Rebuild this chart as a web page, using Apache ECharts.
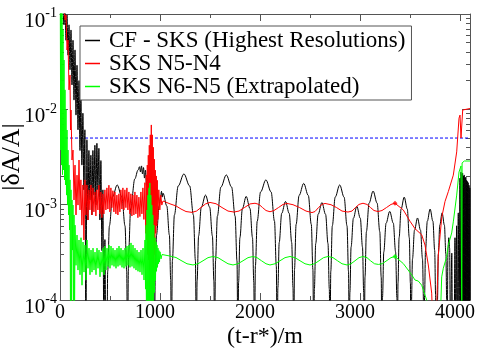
<!DOCTYPE html>
<html>
<head>
<meta charset="utf-8">
<script src="https://cdn.jsdelivr.net/npm/echarts@6/dist/echarts.min.js"></script>
<style>html,body{margin:0;padding:0;background:#fff}#c{width:485px;height:348px}</style>
</head>
<body>
<div id="c"></div>
<script>
// ---- tick labels / ticks ----
const xMajorTicks = [0, 1000, 2000, 3000, 4000];
const xMinorTicks = [500, 1500, 2500, 3500];
const yMajorTicks = [1e-4, 1e-3, 1e-2, 1e-1];
const yMinorTicks = [2e-4,3e-4,4e-4,5e-4,6e-4,7e-4,8e-4,9e-4,2e-3,3e-3,4e-3,5e-3,6e-3,7e-3,8e-3,9e-3,2e-2,3e-2,4e-2,5e-2,6e-2,7e-2,8e-2,9e-2];
const seriesNames = ['CF - SKS (Highest Resolutions)', 'SKS N5-N4', 'SKS N6-N5 (Extrapolated)'];
const thresholdX = [0, 4100];
const thresholdLevel = 5e-3;

// ---- black: CF - SKS ----
const blackData = [
[30,0.12],[40,7.7e-2],[50,0.11],[60,5.3e-2],[70,9.8e-2],[80,3.7e-2],[90,7.7e-2],[100,2.6e-2],[110,6.8e-2],[120,1.8e-2],
[130,5.3e-2],[140,1.25e-2],[150,4.2e-2],[160,8.7e-3],[170,2.9e-2],[180,6.1e-3],[190,2.0e-2],[200,3.7e-3],[209,1.41e-2],[219,2.6e-3],
[229,9.1e-3],[239,1.43e-3],[249,6.1e-3],[259,3e-5],[269,4.8e-3],[279,6.9e-4],[289,3.7e-3],[299,1.12e-3],[309,3.3e-3],[319,7.8e-4],
[329,3.7e-3],[339,1.26e-3],[349,4.2e-3],[359,9.9e-4],[369,4.4e-3],[379,1.43e-3],[389,3.9e-3],[399,6.9e-4],[409,2.9e-3],[419,3.3e-4],
[429,1.43e-3],[439,3e-5],[449,4.3e-4],[459,3e-5],
[469,3e-5],[477,2.0e-4],[494,6.0e-4],[525,1.2e-3],[572,1.61e-3],[619,1.2e-3],[650,6.0e-4],[667,2.0e-4],[675,3e-5],
[686,3.1e-4],[707,9.2e-4],[748,1.86e-3],[780,2.3e-3],[795,2.5e-3],[805,2.2e-3],[815,2.55e-3],[825,2.1e-3],[835,2.45e-3],[845,1.9e-3],
[855,2.3e-3],[865,1.6e-3],[875,1.9e-3],[890,1.2e-3],[913,9.2e-4],[934,3.1e-4],[945,3e-5],
[952,1.63e-4],[965,4.8e-4],[991,9.7e-4],[1005,1.2e-3],[1015,1.38e-3],[1022,1.2e-3],[1030,1.32e-3],[1068,9.7e-4],[1094,4.8e-4],[1107,1.63e-4],[1114,3e-5],
[1124,2.6e-4],[1144,7.8e-4],[1182,1.57e-3],[1239,2.1e-3],[1297,1.57e-3],[1334,7.8e-4],[1354,2.6e-4],[1364,3e-5],
[1371,1.58e-4],[1386,4.7e-4],[1413,9.4e-4],[1455,1.26e-3],[1497,9.4e-4],[1524,4.7e-4],[1539,1.58e-4],[1546,3e-5],
[1555,2.56e-4],[1574,7.6e-4],[1609,1.53e-3],[1663,2.05e-3],[1716,1.53e-3],[1751,7.6e-4],[1770,2.56e-4],[1779,3e-5],
[1786,1.53e-4],[1799,4.5e-4],[1824,9.1e-4],[1862,1.22e-3],[1900,9.1e-4],[1925,4.5e-4],[1938,1.53e-4],[1945,3e-5],
[1954,2.28e-4],[1972,6.7e-4],[2006,1.36e-3],[2059,1.82e-3],[2111,1.36e-3],[2145,6.7e-4],[2163,2.28e-4],[2172,3e-5],
[2179,1.35e-4],[2192,4.0e-4],[2217,8.1e-4],[2255,1.08e-3],[2292,8.1e-4],[2317,4.0e-4],[2330,1.35e-4],[2337,3e-5],
[2345,2.09e-4],[2361,6.2e-4],[2391,1.25e-3],[2437,1.67e-3],[2483,1.25e-3],[2513,6.2e-4],[2529,2.09e-4],[2537,3e-5],
[2544,1.31e-4],[2557,3.9e-4],[2581,7.9e-4],[2619,1.05e-3],[2656,7.9e-4],[2680,3.9e-4],[2693,1.31e-4],[2700,3e-5],
[2708,2.0e-4],[2723,6.0e-4],[2752,1.2e-3],[2797,1.61e-3],[2841,1.2e-3],[2870,6.0e-4],[2885,2.0e-4],[2893,3e-5],
[2899,1.2e-4],[2911,3.6e-4],[2934,7.2e-4],[2968,9.6e-4],[3003,7.2e-4],[3025,3.6e-4],[3037,1.2e-4],[3043,3e-5],
[3050,1.74e-4],[3064,5.2e-4],[3091,1.04e-3],[3131,1.39e-3],[3171,1.04e-3],[3198,5.2e-4],[3212,1.74e-4],[3219,3e-5],
[3225,1.06e-4],[3238,3.2e-4],[3261,6.4e-4],[3297,8.5e-4],[3333,6.4e-4],[3356,3.2e-4],[3369,1.06e-4],[3375,3e-5],
[3380,1.5e-4],[3391,4.5e-4],[3411,9.0e-4],[3442,1.2e-3],[3473,9.0e-4],[3493,4.5e-4],[3504,1.5e-4],[3509,3e-5],
[3514,9.1e-5],[3525,2.7e-4],[3545,5.4e-4],[3575,7.25e-4],[3605,5.4e-4],[3625,2.7e-4],[3636,9.1e-5],[3641,3e-5],
[3646,1.13e-4],[3655,3.3e-4],[3673,6.7e-4],[3701,9.0e-4],[3729,6.7e-4],[3747,3.3e-4],[3756,1.13e-4],[3761,3e-5],
[3771,3e-5],[3775,1.0e-4],[3783,3.0e-4],[3798,6.1e-4],[3821,8.2e-4],[3844,6.1e-4],[3859,3.0e-4],[3867,1.0e-4],[3871,3e-5],
[3880,3.5e-4],[3888,4.5e-4],[3896,3.5e-4],[3905,3e-5],[3912,3e-5],[3918,3.1e-4],[3925,3e-5],[3940,3e-5],[3950,4.5e-4],[3958,3e-5],
[3966,6e-4],[3972,3e-5],[3983,8.2e-4],[3990,3e-5],[4000,1.9e-3],[4005,3e-5],
[4010,2.2e-3],[4014,3e-5],[4018,2.1e-3],[4022,3e-5],[4026,2.15e-3],[4030,3e-5],[4034,2.0e-3],[4038,3e-5],[4042,2.05e-3],[4046,3e-5],
[4050,1.9e-3],[4054,3e-5],[4058,1.95e-3],[4062,3e-5],[4066,1.8e-3],[4070,3e-5],[4074,1.75e-3],[4078,3e-5],[4082,1.7e-3],[4086,3e-5],
[4090,1.6e-3],[4094,3e-5],[4098,1.5e-3],[4100,3e-5]
];

// ---- red: SKS N5-N4 ----
const redData = [
[40,0.124],[50,8.65e-2],[60,9.76e-2],[70,4.19e-2],[80,5.33e-2],[90,1.6e-2],[100,2.29e-2],[105,6.07e-3],[110,9.84e-3],[120,2.94e-3],
[130,3.74e-3],[140,1.12e-3],[150,2.6e-3],[160,7.8e-4],[170,2.04e-3],[180,9.9e-4],[190,2.94e-3],[200,8.8e-4],[209,1.82e-3],[219,6.1e-4],
[229,1.61e-3],[239,4.26e-4],[249,1.82e-3],[259,7.8e-4],[269,1.61e-3],[279,6.9e-4],[289,1.43e-3],[299,8.8e-4],[309,1.61e-3],
[319,7.8e-4],[329,1.5e-3],[339,8.4e-4],[349,1.36e-3],[359,7.6e-4],[369,1.43e-3],[379,8.8e-4],[389,1.6e-3],[399,8.0e-4],[409,1.36e-3],
[419,7.3e-4],[429,1.3e-3],[439,8.0e-4],[449,1.43e-3],[459,8.8e-4],[469,1.5e-3],[479,9.0e-4],[489,1.6e-3],[499,8.4e-4],[509,1.5e-3],
[519,9.3e-4],[529,1.4e-3],[539,8.4e-4],[549,1.36e-3],[559,8.0e-4],[569,1.26e-3],[579,7.8e-4],[589,1.3e-3],[599,8.4e-4],[609,1.43e-3],
[619,9.0e-4],[629,1.5e-3],[639,8.8e-4],[649,1.43e-3],[659,9.3e-4],[669,1.5e-3],[679,8.8e-4],[689,1.36e-3],[699,8.0e-4],[709,1.3e-3],
[719,7.6e-4],[729,1.26e-3],[739,7.8e-4],[749,1.36e-3],[759,8.0e-4],[769,1.26e-3],[779,7.3e-4],[789,1.2e-3],[799,7.5e-4],[809,1.36e-3],
[819,8.0e-4],[829,1.5e-3],[839,7.0e-4],[849,1.7e-3],[858,5.0e-4],
[863,2.04e-3],[868,4.26e-4],[873,2.6e-3],[878,3.0e-4],[883,3.3e-3],[888,2.63e-4],[893,4.2e-3],[898,2.0e-4],[903,5.4e-3],[908,2.5e-4],
[913,6.86e-3],[918,1.6e-4],[923,5.4e-3],[928,1.27e-4],[933,4.0e-3],[938,1.5e-4],[943,3.0e-3],[948,3.0e-4],[953,2.3e-3],[958,5.0e-4],
[963,2.0e-3],[968,6.0e-4],[973,1.8e-3],[978,7.0e-4],[988,1.43e-3],[998,8.8e-4],[1008,1.26e-3],[1018,9.9e-4],
[1030,1.093e-3],[1100,1.02e-3],[1160,9.7e-4],[1210,9.0e-4],[1260,8.47e-4],[1320,8.3e-4],[1365,8.57e-4],[1410,9.33e-4],[1455,1.018e-3],[1500,1.055e-3],
[1560,1.023e-3],[1620,9.33e-4],[1680,8.57e-4],[1740,8.37e-4],[1790,8.57e-4],[1845,9.33e-4],[1900,1.018e-3],[1950,1.035e-3],[1990,1.006e-3],[2025,9.33e-4],
[2060,8.68e-4],[2100,8.43e-4],[2140,8.68e-4],[2185,9.33e-4],[2230,1.006e-3],[2270,1.03e-3],[2330,9.99e-4],[2395,9.33e-4],[2460,8.57e-4],[2520,8.26e-4],
[2550,8.47e-4],[2585,9.33e-4],[2620,1.006e-3],[2650,1.03e-3],[2710,9.99e-4],[2765,9.33e-4],[2820,8.57e-4],[2880,8.37e-4],[2920,8.57e-4],[2955,9.33e-4],
[2990,1.006e-3],[3030,1.035e-3],[3070,1.006e-3],[3105,9.33e-4],[3140,8.68e-4],[3180,8.47e-4],[3220,8.68e-4],[3265,9.33e-4],[3310,1.006e-3],[3350,1.035e-3],
[3433,8.8e-4],[3500,6.7e-4],[3550,5.6e-4],[3617,4.83e-4],[3650,3.77e-4],[3683,2.33e-4],[3717,1.18e-4],[3730,5e-5],[3760,5e-5],[3775,1.62e-4],
[3783,2.96e-4],[3817,7.3e-4],[3850,1.08e-3],[3883,1.37e-3],[3933,2.04e-3],[3967,3.58e-3],[3990,8.07e-3],[4000,8.7e-3],[4010,5.0e-3],[4027,9.84e-3],
[4035,1.02e-2],[4100,1.02e-2]
];

// ---- green: SKS N6-N5 (Extrapolated) ----
const greenData = [
[3,0.124],[7,3.74e-3],[12,0.116],[16,2.6e-3],[20,0.105],[25,2.06e-3],[30,6.79e-2],[35,2.31e-3],[40,3.29e-2],[45,1.82e-3],
[50,1.6e-2],[55,1.61e-3],[60,9.84e-3],[65,1.26e-3],[70,6.07e-3],[75,9.9e-4],[80,3.74e-3],[85,7.8e-4],[90,2.6e-3],[95,5.42e-4],
[100,1.82e-3],[105,5e-5],[110,1.43e-3],[115,5e-5],[120,1.12e-3],[125,3.34e-4],[130,9.9e-4],[135,5e-5],[140,7.8e-4],[145,5e-5],
[150,6.1e-4],[160,2.31e-4],[170,4.8e-4],[180,2.06e-4],[190,4.26e-4],[200,1.84e-4],[210,4.5e-4],[220,1.43e-4],[230,4.06e-4],[240,1.96e-4],
[250,3.77e-4],[260,1.62e-4],[270,4.26e-4],[280,2.15e-4],[290,3.5e-4],[300,1.84e-4],
[310,3.34e-4],[320,1.96e-4],[330,3.5e-4],[340,2.06e-4],[350,3.18e-4],[360,1.84e-4],[370,3.5e-4],[380,2.15e-4],[390,3.34e-4],[400,1.75e-4],
[410,3.18e-4],[420,1.96e-4],[430,3.5e-4],[440,1.84e-4],[450,3.68e-4],[460,2.06e-4],[470,3.5e-4],[480,2.25e-4],[490,3.77e-4],[500,2.15e-4],
[510,3.68e-4],[520,2.31e-4],[530,3.5e-4],[540,2.25e-4],[550,3.34e-4],[560,2.15e-4],[570,3.5e-4],[580,2.25e-4],[590,3.68e-4],[600,2.31e-4],
[610,3.5e-4],[620,2.2e-4],[630,3.34e-4],[640,2.15e-4],[650,3.5e-4],[660,2.25e-4],[670,3.68e-4],[680,2.31e-4],[690,3.77e-4],[700,2.2e-4],
[710,3.97e-4],[720,2.25e-4],[730,3.77e-4],[740,2.15e-4],[750,3.5e-4],[760,2.06e-4],[770,3.34e-4],[780,2.0e-4],[790,3.18e-4],[800,1.96e-4],
[810,3.34e-4],[820,1.84e-4],[830,3.5e-4],[840,1.62e-4],[850,4.26e-4],
[855,1.3e-4],[860,6.1e-4],[865,5e-5],[870,8.8e-4],[875,5e-5],[880,1.26e-3],[885,5e-5],[890,1.5e-3],[895,5e-5],[898,1.69e-3],
[903,5e-5],[908,1.26e-3],[913,5e-5],[918,9.9e-4],[923,5e-5],[928,7.8e-4],[933,8e-5],[938,6.1e-4],[945,1.2e-4],[950,4.5e-4],
[955,1.6e-4],[960,4.06e-4],[965,2.0e-4],[970,3.77e-4],[975,2.2e-4],[980,3.5e-4],[985,2.4e-4],[990,3.3e-4],[995,2.5e-4],[1000,3.2e-4],
[1010,2.7e-4],[1020,3.0e-4],
[1030,3.04e-4],[1100,2.89e-4],[1160,2.79e-4],[1210,2.6e-4],[1270,2.4e-4],[1330,2.33e-4],[1380,2.4e-4],[1430,2.58e-4],[1480,2.78e-4],[1530,2.86e-4],
[1580,2.78e-4],[1630,2.58e-4],[1680,2.4e-4],[1730,2.33e-4],[1780,2.4e-4],[1830,2.58e-4],[1880,2.78e-4],[1930,2.86e-4],[1970,2.78e-4],[2015,2.58e-4],
[2060,2.4e-4],[2100,2.33e-4],[2150,2.4e-4],[2200,2.58e-4],[2250,2.78e-4],[2300,2.86e-4],[2350,2.78e-4],[2400,2.58e-4],[2450,2.4e-4],[2500,2.33e-4],
[2545,2.4e-4],[2590,2.58e-4],[2635,2.78e-4],[2680,2.86e-4],[2730,2.78e-4],[2775,2.58e-4],[2820,2.4e-4],[2870,2.33e-4],[2910,2.4e-4],[2950,2.58e-4],
[2990,2.78e-4],[3030,2.86e-4],[3070,2.78e-4],[3105,2.58e-4],[3145,2.4e-4],[3185,2.36e-4],[3225,2.41e-4],[3270,2.6e-4],[3310,2.78e-4],[3350,2.86e-4],
[3433,2.41e-4],[3517,1.84e-4],[3550,1.62e-4],[3583,1.58e-4],[3617,1.43e-4],[3650,1.13e-4],[3667,1.0e-4],[3680,5e-5],[3800,5e-5],[3817,1.75e-4],
[3833,2.15e-4],[3867,2.85e-4],[3883,3.77e-4],[3917,5.05e-4],[3933,6.6e-4],[3967,1.26e-3],[3990,2.2e-3],[4010,2.55e-3],[4015,2.6e-3],[4018,5e-5],
[4021,2.74e-3],[4043,2.87e-3],[4100,2.87e-3]
];

// markers on the extrapolated curves
const markerX = [3350];
const markerRed = [1.035e-3];
const markerGreen = [2.86e-4];

const FONT = '"Liberation Serif", "Times New Roman", serif';
const AX = '#555';

function xAxisDef(pos, ticks, len, showLine, showLabel) {
  return {
    type: 'value', min: 0, max: 4100, position: pos,
    axisLine: { show: showLine, onZero: false, lineStyle: { color: AX, width: 1 } },
    axisTick: { show: true, inside: true, length: len, customValues: ticks, lineStyle: { color: AX, width: 1 } },
    axisLabel: showLabel ? {
      show: true, customValues: ticks, margin: 3, color: '#000', fontFamily: FONT, fontSize: 20,
      formatter: v => (v === 0 ? '{z|0}' : '{w|' + v + '}'),
      rich: { z: { fontFamily: FONT, fontSize: 20, color: '#000' },
              w: { fontFamily: FONT, fontSize: 20, color: '#000', padding: [0, 10, 0, 0] } }
    } : { show: false },
    splitLine: { show: false }, minorTick: { show: false }
  };
}
function yAxisDef(pos, ticks, len, showLine, showLabel) {
  return {
    type: 'log', logBase: 10, min: 1e-4, max: 1e-1, position: pos,
    axisLine: { show: showLine, onZero: false, lineStyle: { color: AX, width: 1 } },
    axisTick: { show: true, inside: true, length: len, customValues: ticks, lineStyle: { color: AX, width: 1 } },
    axisLabel: showLabel ? {
      show: true, customValues: ticks, margin: 3, padding: [10, 0, 0, 0],
      formatter: v => '{b|10}{s|' + Math.round(Math.log10(v)) + '}',
      rich: { b: { fontFamily: FONT, fontSize: 21, color: '#000', padding: [4, 0, 0, 0] },
              s: { fontFamily: FONT, fontSize: 14, color: '#000', verticalAlign: 'top' } }
    } : { show: false },
    splitLine: { show: false }, minorTick: { show: false }
  };
}

const xAxes = [
  xAxisDef('bottom', xMajorTicks, 7, true, true),
  xAxisDef('bottom', xMinorTicks, 4, false, false),
  xAxisDef('top', xMajorTicks, 7, true, false),
  xAxisDef('top', xMinorTicks, 4, false, false)
];
xAxes[0].name = '(t-r*)/m';
xAxes[0].nameLocation = 'middle';
xAxes[0].nameGap = 25;
xAxes[0].nameMoveOverlap = false;
xAxes[0].nameTextStyle = { fontFamily: FONT, fontSize: 24, color: '#000' };

const yAxes = [
  yAxisDef('left', yMajorTicks, 8, true, true),
  yAxisDef('left', yMinorTicks, 4, false, false),
  yAxisDef('right', yMajorTicks, 8, true, false),
  yAxisDef('right', yMinorTicks, 4, false, false)
];
yAxes[0].name = '|δA/A|';
yAxes[0].nameLocation = 'middle';
yAxes[0].nameGap = 35;
yAxes[0].nameRotate = 90;
yAxes[0].nameMoveOverlap = false;
yAxes[0].nameTextStyle = { fontFamily: FONT, fontSize: 26, color: '#000' };

const lineCommon = { type: 'line', showSymbol: false, symbol: 'none', sampling: null, animation: false, clip: true, xAxisIndex: 0, yAxisIndex: 0 };

const chart = echarts.init(document.getElementById('c'), null, { renderer: 'canvas' });
chart.setOption({
  animation: false,
  backgroundColor: '#fff',
  grid: { left: 60, right: 15, top: 14, bottom: 48, containLabel: false, outerBoundsMode: 'none' },
  xAxis: xAxes,
  yAxis: yAxes,
  legend: {
    data: seriesNames, orient: 'vertical', left: 80, top: 26,
    padding: [3, 6, 2, 5], itemGap: 0, itemWidth: 15, itemHeight: 1.5, icon: 'rect',
    borderColor: '#555', borderWidth: 1, backgroundColor: '#fff',
    textStyle: { fontFamily: FONT, fontSize: 23, color: '#000', lineHeight: 21, padding: [0, 0, 0, 4] }
  },
  series: [
    Object.assign({}, lineCommon, { name: 'threshold', data: thresholdX.map(x => [x, thresholdLevel]),
      lineStyle: { color: '#0000ff', width: 1, type: [3, 2] }, silent: true, z: 1 }),
    Object.assign({}, lineCommon, { name: seriesNames[0], data: blackData, color: '#000', smooth: 0.35, smoothMonotone: 'x',
      lineStyle: { color: '#000', width: 1 }, z: 2 }),
    Object.assign({}, lineCommon, { name: seriesNames[1], data: redData, color: '#ff0000', lineStyle: { color: '#ff0000', width: 1 }, z: 3 }),
    Object.assign({}, lineCommon, { name: seriesNames[2], data: greenData, color: '#00ff00', lineStyle: { color: '#00ff00', width: 1 }, z: 4 }),
    { type: 'scatter', name: 'mRed', data: markerX.map((x, i) => [x, markerRed[i]]), symbol: 'diamond', symbolSize: 5,
      itemStyle: { color: '#ff0000' }, silent: true, z: 5, animation: false },
    { type: 'scatter', name: 'mGreen', data: markerX.map((x, i) => [x, markerGreen[i]]), symbol: 'diamond', symbolSize: 5,
      itemStyle: { color: '#00ff00' }, silent: true, z: 5, animation: false }
  ]
});
</script>
</body>
</html>
